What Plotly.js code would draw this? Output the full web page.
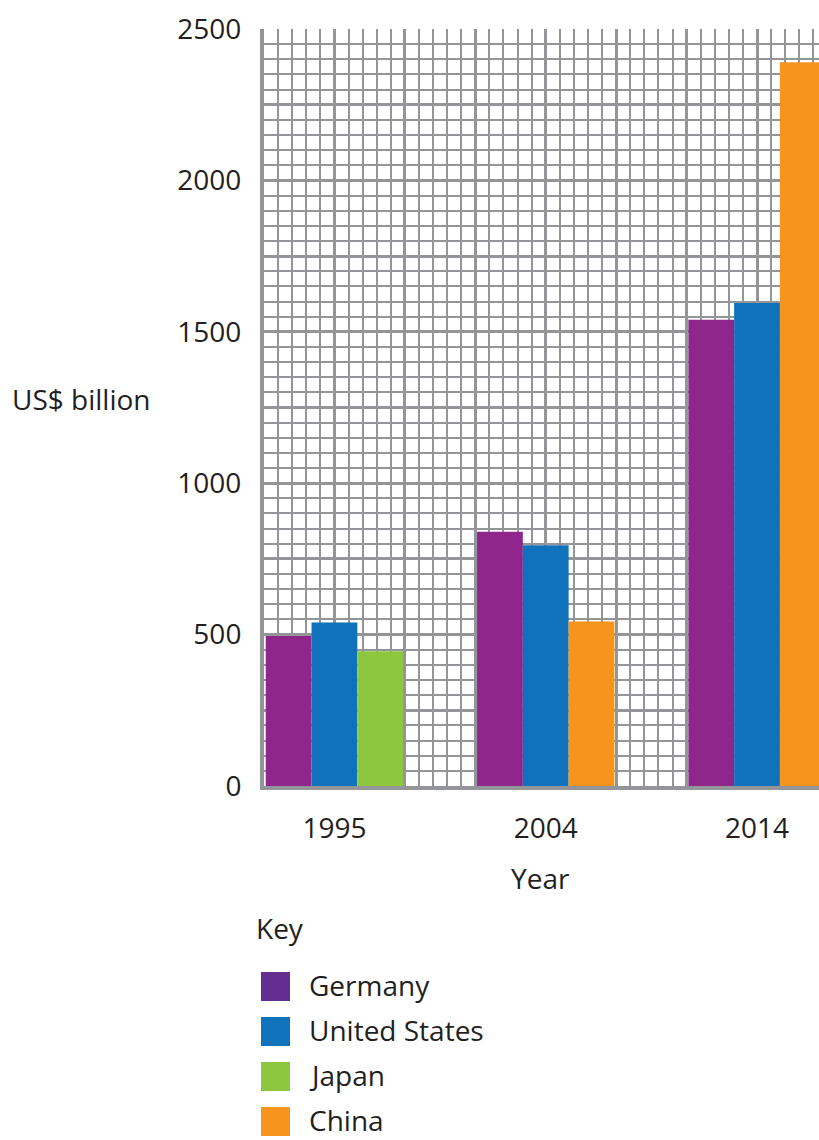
<!DOCTYPE html>
<html>
<head>
<meta charset="utf-8">
<script src="https://cdn.plot.ly/plotly-3.0.1.min.js"></script>
<style>
html,body{margin:0;padding:0;background:#fff;overflow:hidden;}
#chart{width:819px;height:1140px;}
</style>
</head>
<body>
<div id="chart"></div>
<script>
// ---- data ----
var years = ['1995', '2004', '2014'];
var germany = [495, 840, 1540];
var unitedStates = [540, 795, 1595];
var japan = [445, null, null];
var china = [null, 543, 2390];
var seriesNames = ['Germany', 'United States', 'Japan', 'China'];
var yTickValues = [0, 500, 1000, 1500, 2000, 2500];

// ---- styles ----
var barColors = {Germany: '#8E268C', 'United States': '#0F72BA', Japan: '#8DC63F', China: '#F7941D'};
var keyColors = {Germany: '#652D90', 'United States': '#0F72BA', Japan: '#8DC63F', China: '#F7941D'};
var gridColor = '#939598';
var textColor = '#231F20';
var FONT = '"Open Sans", "Noto Sans", sans-serif';
var FS = 28;

var W = 819, H = 1140;
var L = 264, T = 29, B = 786, R = 819;
var plotW = R - L, plotH = B - T;
function px(x) { return (x - L) / plotW; }
function py(y) { return (B - y) / plotH; }

var xIdx = years.map(function (_, i) { return i; });
var barW = 0.2167;
var xStart = -1 / 3;
var xEnd = xStart + plotW / 211.3;

function bar(name, vals, offset) {
  return {
    type: 'bar', name: name, x: xIdx, y: vals,
    width: barW, offset: offset,
    marker: {color: barColors[name], line: {width: 0}},
    showlegend: false, hoverinfo: 'skip'
  };
}
var traces = [
  bar('Germany', germany, -1.5 * barW),
  bar('United States', unitedStates, -0.5 * barW),
  bar('Japan', japan, 0.5 * barW),
  bar('China', china, 0.5 * barW)
];

// x major grid every 1/3 category, labels at categories
var xtv = [], xtt = [];
for (var k = 0; k <= 7; k++) {
  xtv.push(k / 3);
  xtt.push(k % 3 === 0 ? years[k / 3] : '');
}
// y major grid every 250, labels every 500
var ytv = [], ytt = [];
for (var v = 0; v <= 2500; v += 250) {
  ytv.push(v);
  ytt.push(yTickValues.indexOf(v) >= 0 ? String(v) : '');
}

var shapes = [], annotations = [];
var keyTops = [972, 1017, 1062, 1107];
seriesNames.forEach(function (n, i) {
  shapes.push({type: 'rect', xref: 'paper', yref: 'paper',
    x0: px(261), x1: px(290), y0: py(keyTops[i]), y1: py(keyTops[i] + 29),
    fillcolor: keyColors[n], line: {width: 0}});
  annotations.push({xref: 'paper', yref: 'paper', x: px(307), y: py(keyTops[i] + 13),
    xanchor: 'left', yanchor: 'middle', showarrow: false, text: n,
    font: {family: FONT, size: FS, color: textColor}});
});
annotations.push({xref: 'paper', yref: 'paper', x: px(254), y: py(928),
  xanchor: 'left', yanchor: 'middle', showarrow: false, text: 'Key',
  font: {family: FONT, size: FS, color: textColor}});
annotations.push({xref: 'paper', yref: 'paper', x: px(10), y: py(399),
  xanchor: 'left', yanchor: 'middle', showarrow: false, text: 'US$ billion',
  font: {family: FONT, size: FS, color: textColor}});
annotations.push({xref: 'paper', yref: 'paper', x: px(540), y: py(878),
  xanchor: 'center', yanchor: 'middle', showarrow: false, text: 'Year',
  font: {family: FONT, size: FS, color: textColor}});

var layout = {
  width: W, height: H,
  margin: {l: L, r: W - R, t: T, b: H - B, pad: 0},
  paper_bgcolor: '#fff', plot_bgcolor: '#fff',
  barmode: 'overlay',
  font: {family: FONT, size: FS, color: textColor},
  xaxis: {
    range: [xStart, xEnd], tickmode: 'array', tickvals: xtv, ticktext: xtt,
    showgrid: true, gridcolor: gridColor, gridwidth: 3,
    minor: {tickmode: 'linear', tick0: 0, dtick: 1 / 15, showgrid: true, gridcolor: gridColor, gridwidth: 2, ticks: ''},
    showline: true, linecolor: gridColor, linewidth: 4,
    zeroline: false, ticks: '', ticklabelstandoff: 14, fixedrange: true,
    tickfont: {family: FONT, size: FS, color: textColor}
  },
  yaxis: {
    range: [0, 2500], tickmode: 'array', tickvals: ytv, ticktext: ytt,
    showgrid: true, gridcolor: gridColor, gridwidth: 3,
    minor: {tickmode: 'linear', tick0: 0, dtick: 50, showgrid: true, gridcolor: gridColor, gridwidth: 2, ticks: ''},
    showline: true, linecolor: gridColor, linewidth: 4,
    zeroline: false, ticks: '', ticklabelstandoff: 13, fixedrange: true,
    tickfont: {family: FONT, size: FS, color: textColor}
  },
  shapes: shapes,
  annotations: annotations
};

Plotly.newPlot('chart', traces, layout, {displayModeBar: false, staticPlot: true});
</script>
</body>
</html>
